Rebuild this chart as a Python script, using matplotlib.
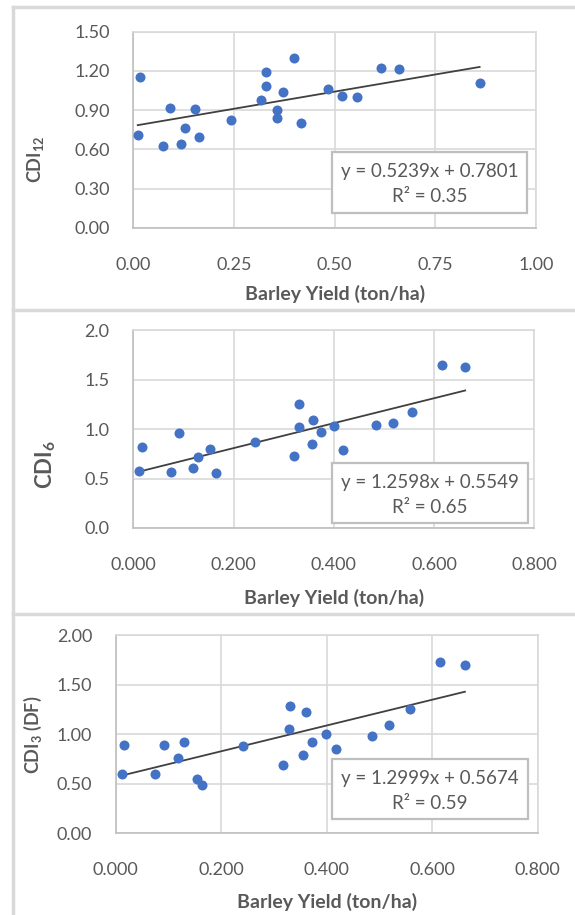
import numpy as np
import matplotlib.pyplot as plt
from matplotlib.lines import Line2D
from matplotlib.patches import Rectangle

plt.rcParams['font.family'] = ['Lato', 'DejaVu Sans']
plt.rcParams['mathtext.fontset'] = 'custom'
plt.rcParams['mathtext.default'] = 'regular'

# panel 1: CDI12
x12 = [0.017, 0.011, 0.073, 0.090, 0.119, 0.129, 0.153, 0.163, 0.242, 0.318, 0.329, 0.329,
       0.358, 0.357, 0.372, 0.400, 0.416, 0.483, 0.518, 0.556, 0.616, 0.661, 0.860]
y12 = [1.151, 0.713, 0.629, 0.919, 0.639, 0.767, 0.907, 0.698, 0.828, 0.975, 1.087, 1.194,
       0.902, 0.840, 1.042, 1.301, 0.802, 1.062, 1.011, 0.998, 1.220, 1.217, 1.105]

# panel 2: CDI6
x6 = [0.012, 0.018, 0.075, 0.091, 0.120, 0.130, 0.154, 0.164, 0.243, 0.320, 0.330,
      0.330, 0.359, 0.357, 0.374, 0.401, 0.418, 0.484, 0.519, 0.557, 0.616, 0.662]
y6 = [0.576, 0.815, 0.569, 0.956, 0.603, 0.721, 0.798, 0.556, 0.865, 0.727, 1.256,
      1.024, 1.094, 0.845, 0.973, 1.027, 0.791, 1.044, 1.061, 1.168, 1.650, 1.626]

# panel 3: CDI3 (DF)
x3 = [0.011, 0.016, 0.075, 0.091, 0.119, 0.130, 0.154, 0.164, 0.241, 0.318, 0.330,
      0.329, 0.360, 0.356, 0.373, 0.399, 0.417, 0.485, 0.519, 0.557, 0.615, 0.662]
y3 = [0.595, 0.887, 0.595, 0.887, 0.756, 0.921, 0.551, 0.491, 0.884, 0.689, 1.284,
      1.055, 1.227, 0.787, 0.921, 1.005, 0.854, 0.985, 1.089, 1.254, 1.724, 1.701]

# trendline coefficients (slope, intercept, r2) as printed on the chart
fits = [(0.5239, 0.7801, 0.35), (1.2598, 0.5549, 0.65), (1.2999, 0.5674, 0.59)]

ylabels = ['CDI$_{12}$', 'CDI$_{6}$', 'CDI$_{3}$ (DF)']

W, H = 575, 915
fig = plt.figure(figsize=(W / 100, H / 100), dpi=100)

grey = '#595959'
grid = '#d9d9d9'
blue = '#4472C4'

def px(x0, y0, x1, y1):
    return [x0 / W, 1 - y1 / H, (x1 - x0) / W, (y1 - y0) / H]

panels = [
    dict(x=x12, y=y12, rect=px(133.3, 31.7, 536, 228), xlim=(0, 1), xstep=0.25, xfmt='{:.2f}',
         ylim=(0, 1.5), ystep=0.3, yfmt='{:.2f}', box=(332, 152, 527, 213),
         xlab_y=294, ylab=(35, 159), ylab_size=13),
    dict(x=x6, y=y6, rect=px(133.3, 330, 534.3, 528), xlim=(0, 0.8), xstep=0.2, xfmt='{:.3f}',
         ylim=(0, 2.0), ystep=0.5, yfmt='{:.1f}', box=(332, 463, 528, 523),
         xlab_y=598, ylab=(46, 465), ylab_size=16),
    dict(x=x3, y=y3, rect=px(115.7, 635, 537.7, 833.3), xlim=(0, 0.8), xstep=0.2, xfmt='{:.3f}',
         ylim=(0, 2.0), ystep=0.5, yfmt='{:.2f}', box=(332, 759, 528, 819),
         xlab_y=902, ylab=(33, 735), ylab_size=13),
]

for p, (m, b, r2), ylab in zip(panels, fits, ylabels):
    ax = fig.add_axes(p['rect'])
    ax.scatter(p['x'], p['y'], s=52, color=blue, zorder=3, linewidths=0)
    xs = np.array([min(p['x']), max(p['x'])])
    ax.plot(xs, m * xs + b, color='#404040', lw=1.3, zorder=2)
    ax.set_xlim(*p['xlim'])
    ax.set_ylim(*p['ylim'])
    xt = np.arange(p['xlim'][0], p['xlim'][1] + 1e-9, p['xstep'])
    yt = np.arange(p['ylim'][0], p['ylim'][1] + 1e-9, p['ystep'])
    ax.set_xticks(xt)
    ax.set_yticks(yt)
    ax.set_xticklabels([p['xfmt'].format(v) for v in xt])
    ax.set_yticklabels([p['yfmt'].format(v) for v in yt])
    ax.tick_params(length=0, labelsize=13, labelcolor=grey)
    ax.tick_params(axis='x', pad=21)
    ax.tick_params(axis='y', pad=17)
    ax.grid(True, color=grid, lw=1.2)
    ax.set_axisbelow(True)
    for s in ax.spines.values():
        s.set_color(grid)
        s.set_linewidth(1.2)
    ax.spines['left'].set_color('#bfbfbf')
    ax.spines['bottom'].set_color('#bfbfbf')

    cx = (p['rect'][0] + p['rect'][2] / 2)
    fig.text(cx, 1 - p['xlab_y'] / H, 'Barley Yield (ton/ha)', ha='center', va='center',
             fontsize=14, fontweight='bold', color=grey)
    fig.text(p['ylab'][0] / W, 1 - p['ylab'][1] / H, ylab, rotation=90, ha='center', va='center',
             fontsize=p['ylab_size'], fontweight='bold', color=grey)

    bx0, by0, bx1, by1 = p['box']
    fig.add_artist(Rectangle((bx0 / W, 1 - by1 / H), (bx1 - bx0) / W, (by1 - by0) / H,
                             transform=fig.transFigure, facecolor='white', edgecolor='#bfbfbf',
                             lw=1.6, zorder=5))
    bcx = (bx0 + bx1) / 2 / W
    fig.text(bcx, 1 - (by0 + 19.5) / H, 'y = {:.4f}x + {:.4f}'.format(m, b), ha='center',
             va='center', fontsize=13.5, color=grey, zorder=6)
    fig.text(bcx, 1 - (by0 + 44.5) / H, 'R² = {:.2f}'.format(r2), ha='center',
             va='center', fontsize=13.5, color=grey, zorder=6)

# chart frames
fc = '#d9d9d9'
for yy in [6.7, 310, 614]:
    fig.add_artist(Line2D([13.3 / W, 1], [1 - yy / H] * 2, color=fc, lw=2.5))
fig.add_artist(Line2D([13.3 / W] * 2, [1 - 6.7 / H, 0], color=fc, lw=2.5))

fig.savefig('out.png', dpi=100)
